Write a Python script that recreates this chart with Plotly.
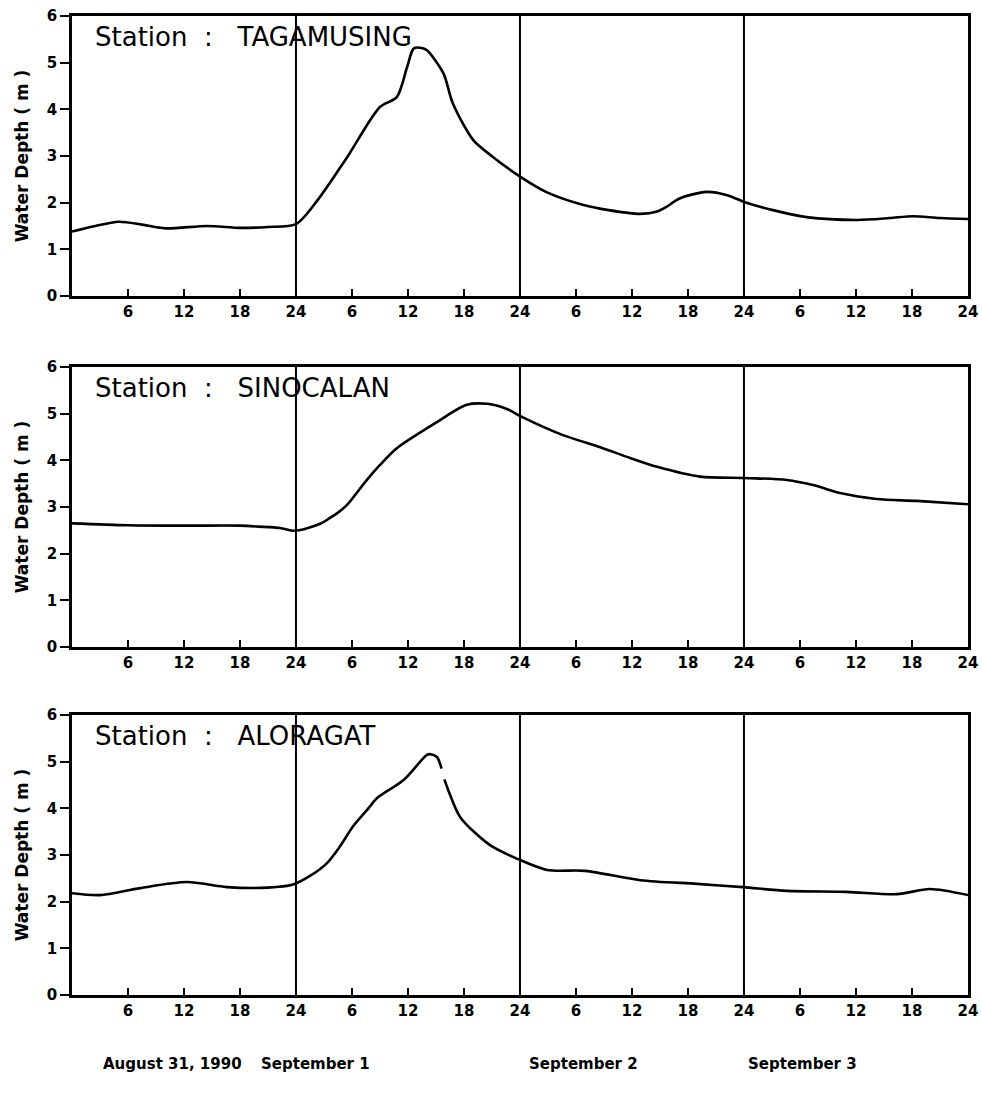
import plotly.graph_objects as go

# ---- data (hours since Aug 31, 1990 00:00; water depth in m) ----
tag_hours = [0, 2.5, 5, 7.5, 10, 14.5, 18, 21, 24, 26.3, 29.5, 33, 34.8, 35.9, 36.6, 37.3, 38,
             39.8, 40.8, 43, 45.1, 48.3, 50.9, 54.8, 57.5, 60.9, 62.7, 63.7, 65.1, 68, 70.2,
             72.1, 75.1, 78.7, 84.1, 87.6, 90.1, 93, 96]
tag_depth = [1.38, 1.5, 1.59, 1.53, 1.45, 1.5, 1.46, 1.48, 1.54, 2.05, 2.98, 4.05, 4.26, 4.9,
             5.3, 5.32, 5.27, 4.77, 4.13, 3.34, 2.98, 2.52, 2.22, 1.95, 1.84, 1.76, 1.81, 1.91,
             2.09, 2.23, 2.16, 2.01, 1.84, 1.69, 1.63, 1.67, 1.71, 1.67, 1.65]

sin_hours = [0, 6, 12, 18, 20, 22.3, 23.9, 26.6, 27.6, 28.5, 29.5, 30.5, 31.6, 33, 34.8, 39.1,
             42.3, 44.5, 46.6, 48.2, 52.6, 56.6, 59.8, 62.7, 67.3, 72.1, 76.6, 79.4, 82.3,
             86.2, 90.5, 96]
sin_depth = [2.65, 2.61, 2.6, 2.6, 2.58, 2.55, 2.49, 2.64, 2.76, 2.88, 3.05, 3.3, 3.58, 3.9,
             4.26, 4.82, 5.19, 5.21, 5.1, 4.93, 4.54, 4.28, 4.05, 3.86, 3.65, 3.62, 3.58, 3.47,
             3.3, 3.17, 3.13, 3.06]

alo_hours = [0, 3, 7.3, 12.3, 16.6, 21, 23.6, 25.5, 27.3, 28.7, 30.1, 31.6, 32.7, 35.5, 38,
             38.4, 39.1, 39.6, 39.7, 39.9, 40.3, 41.6, 44.8, 47.8, 50.9, 55, 60.9, 67, 71.9,
             76.6, 83, 88.4, 91.9, 96]
alo_depth = [2.18, 2.14, 2.29, 2.42, 2.31, 2.3, 2.36, 2.55, 2.82, 3.18, 3.61, 3.96, 4.22, 4.6,
             5.14, 5.16, 5.1, 4.85, None, 4.62, 4.4, 3.81, 3.21, 2.91, 2.68, 2.66, 2.46, 2.38,
             2.31, 2.23, 2.21, 2.16, 2.27, 2.14]

stations = ["Station&nbsp;&nbsp;:&nbsp;&nbsp;&nbsp;TAGAMUSING",
            "Station&nbsp;&nbsp;:&nbsp;&nbsp;&nbsp;SINOCALAN",
            "Station&nbsp;&nbsp;:&nbsp;&nbsp;&nbsp;ALORAGAT"]
x_tickvals = [6, 12, 18, 24, 30, 36, 42, 48, 54, 60, 66, 72, 78, 84, 90, 96]
x_ticktext = ["6", "12", "18", "24", "6", "12", "18", "24", "6", "12", "18", "24",
              "6", "12", "18", "24"]
y_tickvals = [0, 1, 2, 3, 4, 5, 6]
day_bounds = [24, 48, 72]
date_labels = ["August 31, 1990", "September 1", "September 2", "September 3"]
date_label_x = [0.176, 0.321, 0.594, 0.817]

FONT = "DejaVu Sans"
series = [(tag_hours, tag_depth), (sin_hours, sin_depth), (alo_hours, alo_depth)]
y_domains = [[0.7309, 0.9855], [0.4118, 0.6664], [0.0955, 0.35]]
x_domain = [0.0733, 0.9857]

fig = go.Figure()
for i, (hx, dy) in enumerate(series):
    ax = "" if i == 0 else str(i + 1)
    fig.add_trace(go.Scatter(x=hx, y=dy, mode="lines", xaxis="x" + ax, yaxis="y" + ax,
                             line=dict(color="black", width=2.6, shape="spline", smoothing=0.8),
                             connectgaps=False, showlegend=False, hoverinfo="skip"))
    xa = dict(domain=x_domain, range=[0, 96], anchor="y" + ax, tickmode="array",
              tickvals=x_tickvals, ticktext=x_ticktext, ticks="inside", ticklen=7,
              tickwidth=2, tickcolor="black", showline=True, linecolor="black", linewidth=2.5,
              mirror=True, showgrid=False, zeroline=False, automargin=False,
              tickfont=dict(family=FONT, size=15, color="black", weight="bold"))
    ya = dict(domain=y_domains[i], range=[0, 6], anchor="x" + ax, tickmode="array",
              tickvals=y_tickvals, ticks="outside", ticklen=9, tickwidth=1.5,
              tickcolor="black", showline=True, linecolor="black", linewidth=2.5,
              mirror=True, showgrid=False, zeroline=False, automargin=False,
              tickfont=dict(family=FONT, size=15, color="black", weight="bold"),
              title=dict(text="Water Depth ( m )", standoff=14,
                         font=dict(family=FONT, size=17, color="black", weight="bold")))
    fig.update_layout(**{"xaxis" + ax: xa, "yaxis" + ax: ya})
    for d in day_bounds:
        fig.add_shape(type="line", xref="x" + ax, yref="y" + ax + " domain",
                      x0=d, x1=d, y0=0, y1=1, line=dict(color="black", width=2))
    fig.add_annotation(text=stations[i], xref="x" + ax + " domain", yref="y" + ax + " domain",
                       x=0.023, y=0.925, xanchor="left", yanchor="middle", showarrow=False,
                       font=dict(family=FONT, size=26, color="black"))

for lbl, px in zip(date_labels, date_label_x):
    fig.add_annotation(text=lbl, xref="paper", yref="paper", x=px, y=0.0327,
                       xanchor="center", yanchor="middle", showarrow=False,
                       font=dict(family=FONT, size=15, color="black", weight="bold"))

fig.update_layout(width=982, height=1100, margin=dict(l=0, r=0, t=0, b=0, autoexpand=False),
                  paper_bgcolor="white", plot_bgcolor="white")
fig.write_html("out.html")
